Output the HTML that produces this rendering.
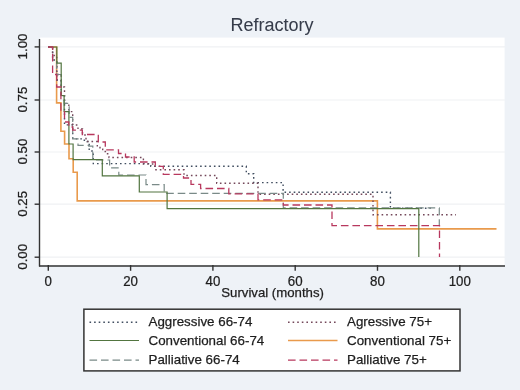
<!DOCTYPE html>
<html><head><meta charset="utf-8"><style>
html,body{margin:0;padding:0;background:#EEF2F7;}
svg{display:block;}
text{font-family:"Liberation Sans",sans-serif;fill:#1e1e1e;stroke:#1e1e1e;stroke-width:0.25px;}
svg{will-change:transform;}
</style></head><body>
<svg width="520" height="390" viewBox="0 0 520 390">
<rect x="0" y="0" width="520" height="390" fill="#EEF2F7"/>
<rect x="40" y="37.6" width="464.6" height="227.4" fill="#FFFFFF"/>
<line x1="40" x2="505" y1="257.2" y2="257.2" stroke="#EFF1F3" stroke-width="1.2"/><line x1="40" x2="505" y1="204.2" y2="204.2" stroke="#EFF1F3" stroke-width="1.2"/><line x1="40" x2="505" y1="152.0" y2="152.0" stroke="#EFF1F3" stroke-width="1.2"/><line x1="40" x2="505" y1="100.0" y2="100.0" stroke="#EFF1F3" stroke-width="1.2"/><line x1="40" x2="505" y1="46.9" y2="46.9" stroke="#EFF1F3" stroke-width="1.2"/>
<g shape-rendering="auto"><path d="M48.0,47H56.6V102.9H60.9V131.3H64.6V144.0H69.0V158.7H73.2V172.3H77.2V200.9H377.4V228.9H496.5" stroke="#E99A4C" stroke-width="1.6" fill="none"/><path d="M48.0,47H52.6V60.0H56.7V80.0H61.2V95.7H64.5V124.9H72.7V138.9H84.3V140.3H87.0V141.5H89.2V151.0H93.3V163.6H150.8V166.3H246.3V173.7H253.7V182.6H283.1V192.3H390.4V208.3H430.7" stroke="#414E60" stroke-width="1.4" stroke-dasharray="1.6 3" fill="none"/><path d="M48.0,47H52.6V55.5H56.7V74.5H61.2V87.0H64.5V103.4H68.8V111.6H72.7V125.0H78.0V129.0H82.5V135.0H86.0V141.5H97.3V147.5H100.0V149.3H102.7V151.5H105.4V153.8H109.0V157.5H143.4V164.0H155.0V169.8H184.0V175.5H216.7V183.3H258.0V194.3H373.0V214.8H456.0" stroke="#74485A" stroke-width="1.4" stroke-dasharray="1.6 3" fill="none"/><path d="M48.0,47H52.6V60.0H56.7V74.5H61.2V95.7H64.1V103.4H69.2V117.4H72.7V138.8H78.0V145.4H88.8V146.1H92.8V160.0H109.6V167.9H118.8V175.0H146.0V184.6H164.2V193.3H283.3V207.9H439.3V225.5H439.3" stroke="#7A8A88" stroke-width="1.2" stroke-dasharray="7.6 3.9" fill="none"/><path d="M48.0,47H56.8V63.2H61.2V95.5H64.1V111.6H68.9V144.0H73.1V159.6H102.3V175.8H139.3V192.0H167.1V208.6H418.8V257.0H418.8" stroke="#527540" stroke-width="1.2" fill="none"/><path d="M48.0,47H52.6V74.5H56.7V87.0H60.9V111.6H64.5V122.0H68.8V127.0H72.7V130.2H82.3V134.5H98.3V142.0H105.3V149.8H118.5V153.5H125.5V157.0H134.2V162.0H155.3V166.3H163.3V174.4H183.5V178.0H191.0V184.3H200.6V188.5H228.8V193.9H258.0V199.8H283.3V205.0H332.0V225.6H439.5V257.0H439.5" stroke="#B8385E" stroke-width="1.3" stroke-dasharray="7.6 3.9" fill="none"/></g>
<line x1="39.5" x2="39.5" y1="39" y2="266.5" stroke="#333" stroke-width="1.4"/>
<line x1="39" x2="505" y1="265.9" y2="265.9" stroke="#333" stroke-width="1.5"/>
<line x1="34.6" x2="40" y1="257.2" y2="257.2" stroke="#333" stroke-width="1.4"/><line x1="34.6" x2="40" y1="204.2" y2="204.2" stroke="#333" stroke-width="1.4"/><line x1="34.6" x2="40" y1="152.0" y2="152.0" stroke="#333" stroke-width="1.4"/><line x1="34.6" x2="40" y1="100.0" y2="100.0" stroke="#333" stroke-width="1.4"/><line x1="34.6" x2="40" y1="46.9" y2="46.9" stroke="#333" stroke-width="1.4"/><line x1="48.3" x2="48.3" y1="265" y2="270.8" stroke="#333" stroke-width="1.4"/><line x1="130.6" x2="130.6" y1="265" y2="270.8" stroke="#333" stroke-width="1.4"/><line x1="212.9" x2="212.9" y1="265" y2="270.8" stroke="#333" stroke-width="1.4"/><line x1="295.2" x2="295.2" y1="265" y2="270.8" stroke="#333" stroke-width="1.4"/><line x1="377.5" x2="377.5" y1="265" y2="270.8" stroke="#333" stroke-width="1.4"/><line x1="459.8" x2="459.8" y1="265" y2="270.8" stroke="#333" stroke-width="1.4"/>
<g font-size="13.3"><text transform="translate(27.2,256.8) rotate(-90)" text-anchor="middle">0.00</text><text transform="translate(27.2,203.8) rotate(-90)" text-anchor="middle">0.25</text><text transform="translate(27.2,151.6) rotate(-90)" text-anchor="middle">0.50</text><text transform="translate(27.2,99.6) rotate(-90)" text-anchor="middle">0.75</text><text transform="translate(27.2,46.5) rotate(-90)" text-anchor="middle">1.00</text><text transform="translate(48.3,285.9) scale(0.93,1)" font-size="14.3" text-anchor="middle">0</text><text transform="translate(130.6,285.9) scale(0.93,1)" font-size="14.3" text-anchor="middle">20</text><text transform="translate(212.9,285.9) scale(0.93,1)" font-size="14.3" text-anchor="middle">40</text><text transform="translate(295.2,285.9) scale(0.93,1)" font-size="14.3" text-anchor="middle">60</text><text transform="translate(377.5,285.9) scale(0.93,1)" font-size="14.3" text-anchor="middle">80</text><text transform="translate(459.8,285.9) scale(0.93,1)" font-size="14.3" text-anchor="middle">100</text></g>
<text x="272.6" y="297.4" font-size="13.2" text-anchor="middle">Survival (months)</text>
<text x="272.1" y="31.4" font-size="18" text-anchor="middle" style="fill:#363c4a;stroke:#363c4a;stroke-width:0.05px">Refractory</text>
<g font-size="13.35"><rect x="83.9" y="309.2" width="376.1" height="61.7" fill="#fff" stroke="#333" stroke-width="1.5"/><line x1="89.5" x2="139.0" y1="322.2" y2="322.2" stroke="#414E60" stroke-width="1.4" stroke-dasharray="1.6 3"/><text x="148.5" y="325.7">Aggressive 66-74</text><line x1="288" x2="337.5" y1="322.2" y2="322.2" stroke="#74485A" stroke-width="1.4" stroke-dasharray="1.6 3"/><text x="347" y="325.7">Agressive 75+</text><line x1="89.5" x2="139.0" y1="340.5" y2="340.5" stroke="#527540" stroke-width="1.2"/><text x="148.5" y="345.4">Conventional 66-74</text><line x1="288" x2="337.5" y1="340.5" y2="340.5" stroke="#E99A4C" stroke-width="1.6"/><text x="347" y="345.4">Conventional 75+</text><line x1="89.5" x2="139.0" y1="360.2" y2="360.2" stroke="#7A8A88" stroke-width="1.2" stroke-dasharray="7.6 3.9"/><text x="148.5" y="363.7">Palliative 66-74</text><line x1="288" x2="337.5" y1="360.2" y2="360.2" stroke="#B8385E" stroke-width="1.3" stroke-dasharray="7.6 3.9"/><text x="347" y="363.7">Palliative 75+</text></g>
</svg>
</body></html>
